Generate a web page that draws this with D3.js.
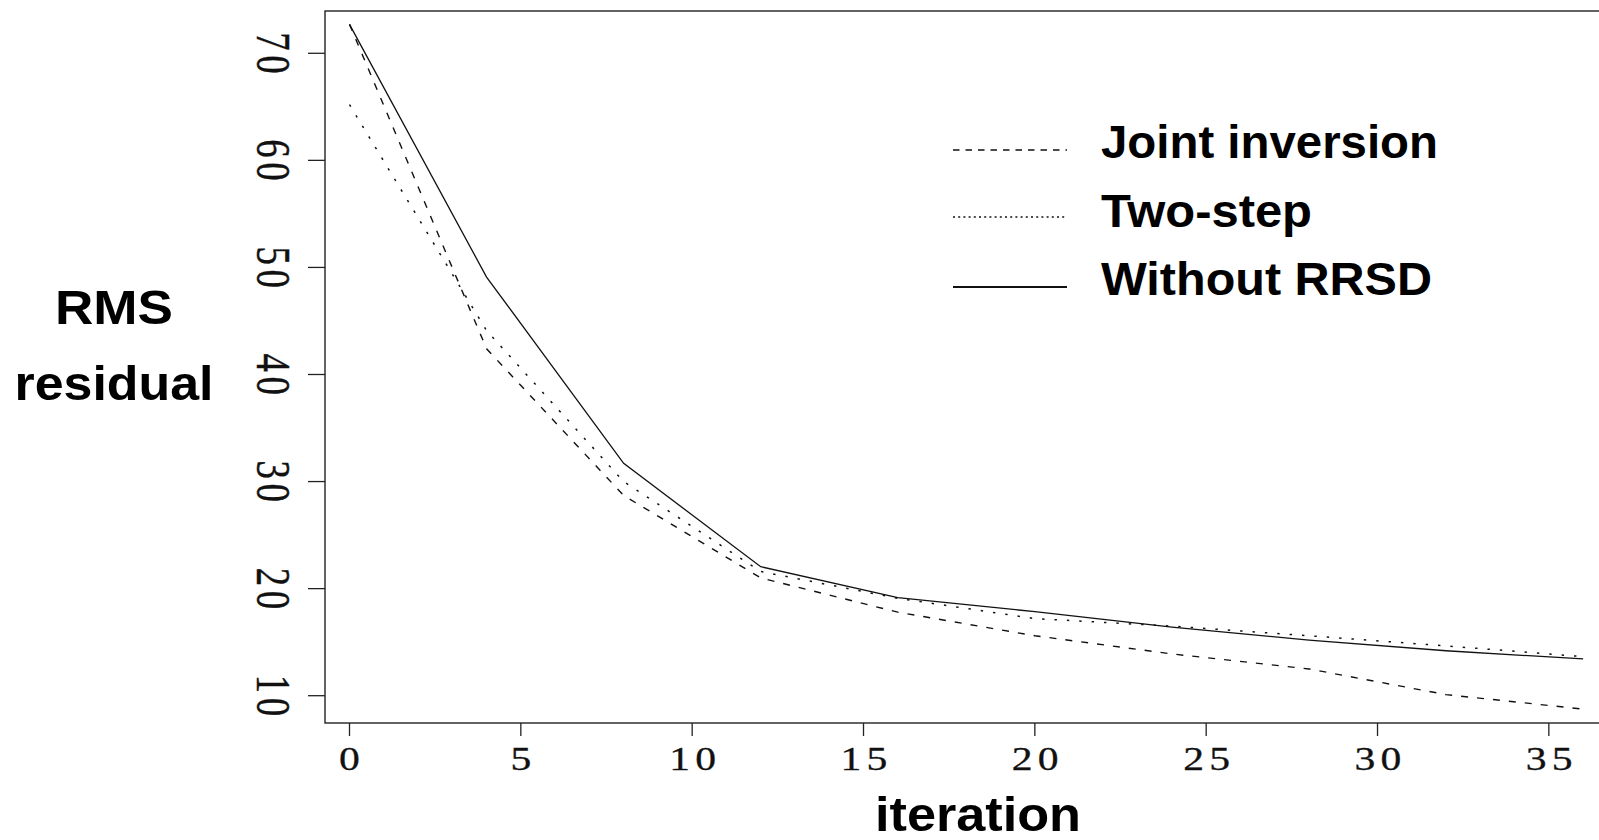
<!DOCTYPE html>
<html>
<head>
<meta charset="utf-8">
<script src="https://cdn.jsdelivr.net/npm/d3@7"></script>
<style>
  html, body { margin: 0; padding: 0; background: #fff; }
  svg { display: block; }
</style>
</head>
<body>
<svg id="chart" width="1599" height="840"></svg>
<script>
// Convergence of the RMS residual over the inversion iterations
const iterations     = [0, 4, 8, 12, 16, 20, 24, 28, 32, 36];
const jointInversion = [72.7, 42.4, 28.7, 21.0, 17.8, 15.6, 13.9, 12.5, 10.1, 8.75];
const twoStep        = [65.2, 44.1, 30.0, 21.6, 19.1, 17.2, 16.5, 15.6, 14.65, 13.65];
const withoutRRSD    = [72.7, 49.1, 31.7, 22.05, 19.15, 17.85, 16.4, 15.2, 14.2, 13.43];

const xTicks = [0, 5, 10, 15, 20, 25, 30, 35];
const yTicks = [10, 20, 30, 40, 50, 60, 70];
const seriesNames = ["Joint inversion", "Two-step", "Without RRSD"];

const svg = d3.select("#chart");

const plot = { left: 325, top: 11, right: 1640, bottom: 723 };

const x = d3.scaleLinear().domain([-0.715, 37.66]).range([plot.left, plot.right]);
const y = d3.scaleLinear().domain([7.45, 73.95]).range([plot.bottom, plot.top]);

const ink = "#111";

// frame around the plotting region (right edge runs past the page)
svg.append("rect")
  .attr("x", plot.left).attr("y", plot.top)
  .attr("width", plot.right - plot.left).attr("height", plot.bottom - plot.top)
  .attr("fill", "none").attr("stroke", "#222").attr("stroke-width", 1.4);

// x axis ticks and labels
const xAxis = svg.append("g");
xAxis.selectAll("line").data(xTicks).join("line")
  .attr("x1", d => x(d)).attr("x2", d => x(d))
  .attr("y1", plot.bottom).attr("y2", plot.bottom + 13)
  .attr("stroke", "#222").attr("stroke-width", 1.3);
xAxis.selectAll("text").data(xTicks).join("text")
  .attr("transform", d => `translate(${x(d) + (d >= 10 ? 3 : 0)},770) scale(1.3,1.05)`)
  .attr("text-anchor", "middle")
  .attr("font-family", "Liberation Serif, serif")
  .attr("font-size", 32)
  .attr("letter-spacing", d => d >= 10 ? 4 : 0)
  .attr("fill", ink)
  .attr("stroke", ink).attr("stroke-width", 0.3)
  .text(d => d);

// y axis ticks and labels (labels run down the page)
const yAxis = svg.append("g");
yAxis.selectAll("line").data(yTicks).join("line")
  .attr("x1", plot.left - 17).attr("x2", plot.left)
  .attr("y1", d => y(d)).attr("y2", d => y(d))
  .attr("stroke", "#222").attr("stroke-width", 1.3);
yAxis.selectAll("text").data(yTicks).join("text")
  .attr("transform", d => `translate(257,${y(d) + 2}) rotate(90) scale(1.15,1.5)`)
  .attr("text-anchor", "middle")
  .attr("font-family", "Liberation Serif, serif")
  .attr("font-size", 32)
  .attr("letter-spacing", 4)
  .attr("fill", ink)
  .attr("stroke", ink).attr("stroke-width", 0.3)
  .text(d => d);

// axis titles
const titleFont = "Liberation Sans, Arial, sans-serif";
svg.append("text")
  .attr("x", 978).attr("y", 831)
  .attr("text-anchor", "middle")
  .attr("font-family", titleFont).attr("font-weight", "bold").attr("font-size", 48)
  .attr("textLength", 206).attr("lengthAdjust", "spacingAndGlyphs")
  .attr("fill", "#000")
  .text("iteration");
svg.append("text")
  .attr("x", 114).attr("y", 324)
  .attr("text-anchor", "middle")
  .attr("font-family", titleFont).attr("font-weight", "bold").attr("font-size", 49)
  .attr("textLength", 118).attr("lengthAdjust", "spacingAndGlyphs")
  .attr("fill", "#000")
  .text("RMS");
svg.append("text")
  .attr("x", 114).attr("y", 400)
  .attr("text-anchor", "middle")
  .attr("font-family", titleFont).attr("font-weight", "bold").attr("font-size", 49)
  .attr("textLength", 199).attr("lengthAdjust", "spacingAndGlyphs")
  .attr("fill", "#000")
  .text("residual");

// series lines
const series = [
  { name: seriesNames[0], values: jointInversion, dash: "7,9",    width: 1.4, legendDash: "6.5,6", legendWidth: 1.6 },
  { name: seriesNames[1], values: twoStep,        dash: "2.4,10", width: 1.5, legendDash: "2,3.2", legendWidth: 1.3 },
  { name: seriesNames[2], values: withoutRRSD,    dash: null,     width: 1.3, legendDash: null,    legendWidth: 2 }
];

const line = d3.line()
  .x(d => x(d[0]))
  .y(d => y(d[1]));

svg.append("g").selectAll("path").data(series).join("path")
  .attr("d", s => line(iterations.map((it, i) => [it, s.values[i]])))
  .attr("fill", "none")
  .attr("stroke", ink)
  .attr("stroke-width", s => s.width)
  .attr("stroke-dasharray", s => s.dash);

// legend
const legendRows = [
  { lineY: 150, textY: 158, width: 337 },
  { lineY: 217, textY: 227, width: 211 },
  { lineY: 287, textY: 295, width: 331 }
];
const legend = svg.append("g");
series.forEach((s, i) => {
  const r = legendRows[i];
  legend.append("line")
    .attr("x1", 953).attr("x2", 1067)
    .attr("y1", r.lineY).attr("y2", r.lineY)
    .attr("stroke", ink)
    .attr("stroke-width", s.legendWidth)
    .attr("stroke-dasharray", s.legendDash);
  legend.append("text")
    .attr("x", 1101).attr("y", r.textY)
    .attr("font-family", titleFont).attr("font-weight", "bold").attr("font-size", 46)
    .attr("textLength", r.width).attr("lengthAdjust", "spacingAndGlyphs")
    .attr("fill", "#000")
    .text(s.name);
});
</script>
</body>
</html>
